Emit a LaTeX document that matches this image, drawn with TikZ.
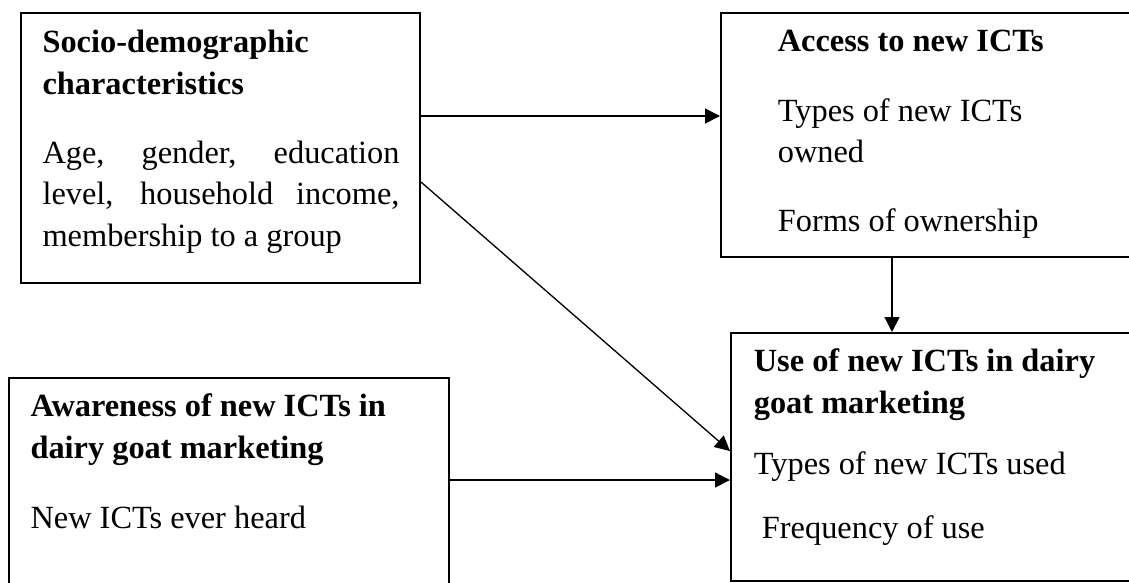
\documentclass[tikz,border=0pt]{standalone}
\usepackage{fontspec}
\setmainfont{Liberation Serif}
\usepackage{tikz}
\usetikzlibrary{calc}
\usetikzlibrary{fit}
\usetikzlibrary{arrows.meta}
\newlength{\ux}
\setlength{\ux}{0.38pt}
\newcommand{\headline}[2]{{\raggedright\bfseries #1\par}\vspace{#2\ux}}
\tikzset{
	box/.style = {draw, line width=0.75pt, inner sep=0pt},
	txt/.style = {inner sep=0pt, anchor=base west, font=\fontsize{12.3}{15.8}\selectfont},
	link/.style = {-{Triangle[length=5.7pt, width=5.7pt]}, line width=0.5pt},
}

\begin{document}
\begin{tikzpicture}[x=0.38pt, y=-0.38pt]
			\clip (0,0) rectangle (1129,582);
			\node[box, fit={(21,13) (420,283)}] (socio) {};
			\node[box, fit={(721,13) (1150,257)}] (access) {};
			\node[box, fit={(9,378) (449,600)}] (aware) {};
			\node[box, fit={(731,333) (1150,580.5)}] (use) {};
			\node[txt] (sociotext) at (42,52.7) {\parbox[t]{357\ux}{\headline{Socio-demographic characteristics}{27.5}Age, gender, education\linebreak level, household income,\linebreak membership to a group}};
			\node[txt] (accesstext) at (777.3,51.7) {\parbox[t]{300\ux}{\raggedright\headline{Access to new ICTs}{28}Types of new ICTs owned\par\vspace{27\ux}Forms of ownership}};
			\node[txt] (awaretext) at (30,416.7) {\parbox[t]{390\ux}{\raggedright\headline{Awareness of new ICTs in dairy goat marketing}{28.5}New ICTs ever heard}};
			\node[txt] (usetext) at (753.3,371.7) {\parbox[t]{360\ux}{\raggedright\headline{Use of new ICTs in dairy goat marketing}{20}Types of new ICTs used\par\vspace{22\ux}\ Frequency of use}};
			\coordinate (s1) at ($(socio.north east)+(0,104)$);
			\coordinate (s2) at ($(socio.north east)+(0,170)$);
			\coordinate (a1) at ($(access.south west)+(172,0)$);
			\coordinate (w1) at ($(aware.north east)+(0,103)$);
			\coordinate (u1) at ($(use.north west)+(0,119)$);
			\draw[link] (s1) -- (s1 -| access.west);
			\draw[link] (s2) -- (u1);
			\draw[link] (a1) -- (a1 |- use.north);
			\draw[link] (w1) -- (w1 -| use.west);
		\end{tikzpicture}
\end{document}
